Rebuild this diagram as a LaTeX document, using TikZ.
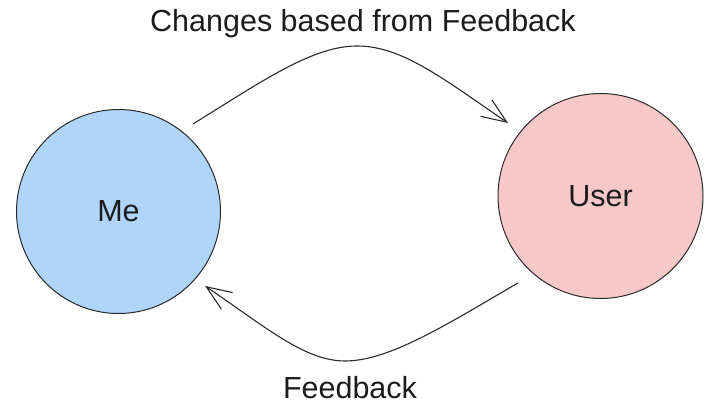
\documentclass[tikz,border=0pt]{standalone}
\usepackage{fontspec}
\setmainfont{Liberation Sans}
\usetikzlibrary{arrows.meta,calc}
\definecolor{meblue}{HTML}{AFD5FA}
\definecolor{userpink}{HTML}{F6C8C8}
\definecolor{inkline}{HTML}{2A2A2A}
\definecolor{inktext}{HTML}{1C1C1C}
\begin{document}
\begin{tikzpicture}[x=1pt,y=1pt,
  actor/.style={circle,draw=inkline,line width=1pt,inner sep=0pt,
    text=inktext,font=\fontsize{30.5}{36}\selectfont},
  caption/.style={anchor=base,inner sep=0pt,text=inktext,
    font=\fontsize{30.5}{36}\selectfont},
  flow/.style={draw=inkline,line width=1.1pt,
    -{Straight Barb[length=25pt,width=20pt,line width=1.1pt]}}]
  \useasboundingbox (0,0) rectangle (705,405);

  % the two parties
  \node[actor,fill=meblue,minimum size=204pt] (me) at (118.5,193.5) {Me};
  \node[actor,fill=userpink,minimum size=205pt] (user) at (600.5,209) {User};

  % labels of the two flows
  \node[caption] (changes) at (363,373.3) {Changes based from Feedback};
  \node[caption] (feedback) at (350,6.5) {Feedback};

  % changes going to the user
  \draw[flow] ($(me.center)+(49.6:114.9)$)
    .. controls (261,323) and (312,359) .. (357,359)
    .. controls (402,359) and (442,327) .. ($(user.center)+(141.7:117.8)$);

  % feedback coming back
  \draw[flow] ($(user.center)+(226.5:119.9)$)
    .. controls (449,82) and (390,44) .. (345,44)
    .. controls (305,44) and (267,77) .. ($(me.center)+(-40.7:114.2)$);
\end{tikzpicture}
\end{document}
